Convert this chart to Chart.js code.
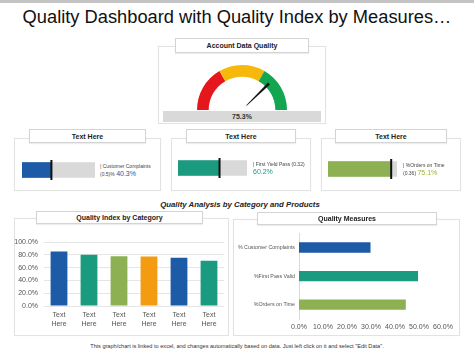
<!DOCTYPE html>
<html><head><meta charset="utf-8">
<script src="https://cdn.jsdelivr.net/npm/chart.js@4.4.1/dist/chart.umd.min.js"></script>
<style>
body{margin:0;width:474px;height:355px;background:#fff;position:relative;overflow:hidden;font-family:"Liberation Sans",Arial,sans-serif;}
.topband{position:absolute;left:0;top:0;width:474px;height:3px;background:#c4c4c4;}
.title{position:absolute;left:0;top:5px;width:474px;text-align:center;font-size:18.3px;line-height:24px;color:#111;}
.panel{position:absolute;border:1px solid #e2e2e2;box-sizing:border-box;background:#fff;box-shadow:0 0 1px rgba(0,0,0,0.06);}
.lbl{position:absolute;border:1px solid #d4d4d4;box-sizing:border-box;background:#fff;font-weight:bold;font-size:7px;color:#222;display:flex;align-items:center;justify-content:center;box-shadow:0 1px 1px rgba(0,0,0,0.07);}
.txt{position:absolute;white-space:nowrap;color:#333;}
canvas{position:absolute;}
</style></head><body>
<div class="topband"></div>
<div class="title">Quality Dashboard with Quality Index by Measures…</div>

<div class="panel" style="left:158px;top:46px;width:168px;height:78px;"></div>
<div class="lbl" style="left:175px;top:38px;width:134px;height:15px;">Account Data Quality</div>
<canvas id="gauge" width="90" height="45" style="left:197px;top:65px;"></canvas>
<div style="position:absolute;left:163px;top:111px;width:158px;height:11px;background:#d9d9d9;font-weight:bold;font-size:7px;line-height:11px;text-align:center;color:#333;" id="gaugeText"></div>

<div class="panel" style="left:14px;top:138px;width:147px;height:53px;"></div>
<div class="lbl" style="left:29px;top:129px;width:117px;height:14px;">Text Here</div>
<div class="panel" style="left:171px;top:138px;width:140px;height:53px;"></div>
<div class="lbl" style="left:186px;top:129px;width:110px;height:14px;">Text Here</div>
<div class="panel" style="left:321px;top:138px;width:140px;height:53px;"></div>
<div class="lbl" style="left:335px;top:129px;width:112px;height:14px;">Text Here</div>
<canvas id="b0" width="73" height="20" style="left:22px;top:160px;"></canvas>
<canvas id="b1" width="69" height="20" style="left:178px;top:158px;"></canvas>
<canvas id="b2" width="69" height="20" style="left:328px;top:159px;"></canvas>
<div id="bt0" class="txt" style="left:100px;top:163px;"></div>
<div id="bt1" class="txt" style="left:253px;top:161px;"></div>
<div id="bt2" class="txt" style="left:403px;top:162px;"></div>

<div class="txt" style="left:0;top:200px;width:480px;text-align:center;font-weight:bold;font-style:italic;font-size:7.8px;line-height:10px;color:#222;">Quality Analysis by Category and Products</div>

<div class="panel" style="left:14px;top:218px;width:215px;height:118px;"></div>
<div class="lbl" style="left:36px;top:211px;width:167px;height:13px;">Quality Index by Category</div>
<canvas id="cat" width="216" height="98" style="left:10px;top:232px;"></canvas>

<div class="panel" style="left:233px;top:219px;width:227px;height:117px;"></div>
<div class="lbl" style="left:257px;top:212px;width:180px;height:13px;">Quality Measures</div>
<canvas id="meas" width="226" height="107" style="left:232px;top:226px;"></canvas>

<div class="txt" style="left:0;top:342px;width:474px;text-align:center;font-size:5.6px;line-height:8px;color:#333;">This graph/chart is linked to excel, and changes automatically based on data. Just left click on it and select "Edit Data".</div>

<script>
// ---- data ----
const gaugeBands = [33.3, 33.3, 33.4];
const gaugeValue = 75.3;

const bulletNames = ['| Customer Complaints', '| First Yield Pass (0.32)', '| %Orders on Time'];
const bulletRefs = ['(0.5)%', '', '(0.36)'];
const bulletValues = [40.3, 60.2, 75.1];
const bulletTrackMax = [100, 100, 82];

const categoryLabels = [['Text','Here'],['Text','Here'],['Text','Here'],['Text','Here'],['Text','Here'],['Text','Here']];
const categoryValues = [85.5, 80.5, 78, 77.5, 75.5, 71];
const categoryTickStep = 20;
const categoryMax = 100;

const measureLabels = ['% Customer Complaints', '%First Pass Valid', '%Orders on Time'];
const measureValues = [29.8, 49.6, 44.5];
const measureTickStep = 10;
const measureMax = 60;

// ---- styles ----
const FONT = '"Liberation Sans", Arial, sans-serif';
const BLUE = '#1D5BA6', TEAL = '#1A9A7E', OLIVE = '#8CB052', ORANGE = '#F39C12';
const gaugeColors = ['#E5171C', '#F6B80B', '#12A650'];
const bulletColors = [BLUE, TEAL, OLIVE];
const bulletTextColors = ['#1D5BA6', '#1A9A7E', '#9AB23A'];
const categoryColors = [BLUE, TEAL, OLIVE, ORANGE, BLUE, TEAL];
const measureColors = [BLUE, TEAL, OLIVE];

Chart.defaults.font.family = FONT;
Chart.defaults.animation = false;
Chart.defaults.responsive = false;
Chart.defaults.plugins.legend.display = false;
Chart.defaults.plugins.tooltip.enabled = false;

// ---- gauge ----
document.getElementById('gaugeText').textContent = gaugeValue.toFixed(1) + '%';
new Chart(document.getElementById('gauge'), {
  type: 'doughnut',
  data: { labels: ['Low','Mid','High'], datasets: [{ data: gaugeBands, backgroundColor: gaugeColors, borderWidth: 0 }] },
  options: {
    rotation: -90, circumference: 180, cutout: '74%',
    layout: { padding: 0 }
  },
  plugins: [{
    id: 'needle',
    afterDatasetsDraw(chart) {
      const meta = chart.getDatasetMeta(0);
      const first = meta.data[0], last = meta.data[meta.data.length - 1];
      const total = gaugeBands.reduce((a, b) => a + b, 0);
      const a = first.startAngle + (last.endAngle - first.startAngle) * gaugeValue / total;
      const cx = first.x, cy = first.y, R = first.outerRadius;
      const r0 = R * 0.14, r1 = R * 0.84;
      const ctx = chart.ctx;
      const px = -Math.sin(a), py = Math.cos(a);
      const bx = cx + Math.cos(a) * r0, by = cy + Math.sin(a) * r0;
      const tx = cx + Math.cos(a) * r1, ty = cy + Math.sin(a) * r1;
      ctx.save();
      ctx.fillStyle = '#111';
      ctx.beginPath();
      ctx.moveTo(bx + px * 0.3, by + py * 0.3);
      ctx.lineTo(tx + px * 1.3, ty + py * 1.3);
      ctx.lineTo(tx - px * 1.3, ty - py * 1.3);
      ctx.lineTo(bx - px * 0.3, by - py * 0.3);
      ctx.closePath();
      ctx.fill();
      ctx.restore();
    }
  }]
});

// ---- bullets ----
bulletValues.forEach((v, i) => {
  const t = document.getElementById('bt' + i);
  t.innerHTML = '<div style="font-size:5px;line-height:6px;color:#444;">' + bulletNames[i] + '</div>' +
    '<div style="font-size:5px;line-height:9px;color:#444;">' + (bulletRefs[i] ? bulletRefs[i] + ' ' : '') +
    '<span style="font-size:7px;color:' + bulletTextColors[i] + ';">' + v.toFixed(1) + '%</span></div>';
  new Chart(document.getElementById('b' + i), {
    type: 'bar',
    data: { labels: [''], datasets: [
      { data: [v], backgroundColor: bulletColors[i], grouped: false, barThickness: 15 },
      { data: [bulletTrackMax[i]], backgroundColor: '#d9d9d9', grouped: false, barThickness: 15 }
    ]},
    options: {
      indexAxis: 'y',
      layout: { padding: 0 },
      scales: { x: { display: false, min: 0, max: bulletTrackMax[i] }, y: { display: false } }
    },
    plugins: [{
      id: 'marker',
      afterDatasetsDraw(chart) {
        const x = chart.scales.x.getPixelForValue(v);
        const ctx = chart.ctx, area = chart.chartArea;
        ctx.save();
        ctx.strokeStyle = '#111'; ctx.lineWidth = 2;
        ctx.beginPath(); ctx.moveTo(x, area.top); ctx.lineTo(x, area.bottom); ctx.stroke();
        ctx.restore();
      }
    }]
  });
});

// ---- quality index by category ----
new Chart(document.getElementById('cat'), {
  type: 'bar',
  data: { labels: categoryLabels, datasets: [{ data: categoryValues, backgroundColor: categoryColors, categoryPercentage: 1, barPercentage: 0.56 }] },
  options: {
    layout: { padding: { top: 7, right: 2, left: 0, bottom: 0 } },
    scales: {
      y: {
        min: 0, max: categoryMax,
        ticks: { stepSize: categoryTickStep, padding: 6, color: '#555', font: { size: 7 }, callback: v => v.toFixed(1) + '%' },
        grid: { color: '#e6e6e6', drawTicks: false },
        border: { display: false },
        afterFit: s => { s.width = 34; }
      },
      x: {
        ticks: { padding: 5, color: '#555', font: { size: 7 }, maxRotation: 0, minRotation: 0, autoSkip: false },
        grid: { display: false, drawTicks: false },
        border: { display: false },
        afterFit: s => { s.height = 24; }
      }
    }
  }
});

// ---- quality measures ----
new Chart(document.getElementById('meas'), {
  type: 'bar',
  data: { labels: measureLabels, datasets: [{ data: measureValues, backgroundColor: measureColors, categoryPercentage: 1, barPercentage: 0.36 }] },
  options: {
    indexAxis: 'y',
    layout: { padding: { top: 3, right: 15, left: 0, bottom: 0 } },
    scales: {
      x: {
        min: 0, max: measureMax,
        ticks: { stepSize: measureTickStep, padding: 4, color: '#555', font: { size: 7 }, maxRotation: 0, minRotation: 0, autoSkip: false, callback: v => v.toFixed(1) + '%' },
        grid: { display: false, drawTicks: false },
        border: { display: false },
        afterFit: s => { s.height = 14; }
      },
      y: {
        ticks: { padding: 4, color: '#555', font: { size: 5.3 } },
        grid: { display: false, drawTicks: false },
        border: { display: true, color: '#d9d9d9', width: 1 },
        afterFit: s => { s.width = 67; }
      }
    }
  }
});
</script>
</body></html>
